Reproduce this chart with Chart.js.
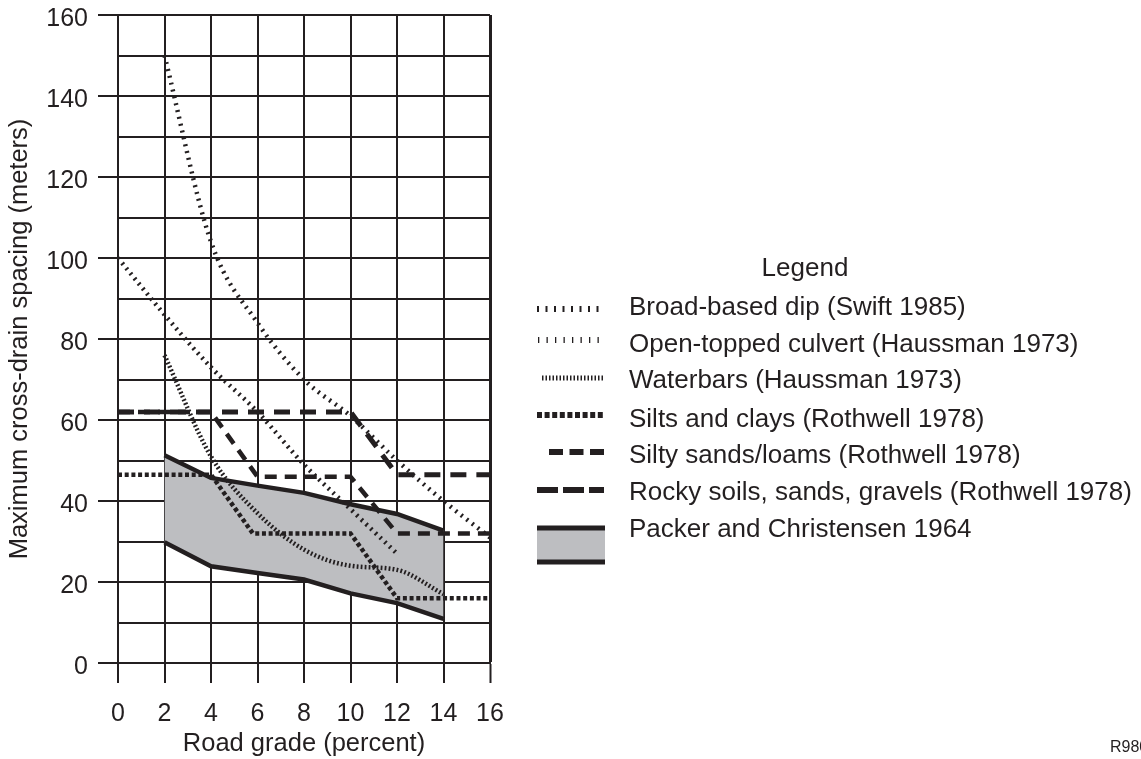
<!DOCTYPE html>
<html>
<head>
<meta charset="utf-8">
<script src="https://cdn.jsdelivr.net/npm/chart.js@4/dist/chart.umd.min.js"></script>
<style>
  html, body { margin: 0; padding: 0; background: #ffffff; }
  #wrap { width: 1141px; height: 759px; position: relative; }
</style>
</head>
<body>
<div id="wrap"><canvas id="c" width="1141" height="759"></canvas></div>
<script>
// ---- Data ----
const xTicks = [0, 2, 4, 6, 8, 10, 12, 14, 16];
const yTicks = [0, 20, 40, 60, 80, 100, 120, 140, 160];

const broadX = [0, 2, 4, 6, 8, 10, 12];
const broadY = [100, 86, 73, 62, 49, 38, 27];

const openX = [2, 4, 6, 8, 10, 12, 14, 16];
const openY = [150, 104, 84, 70, 61, 50, 40, 31];

const waterX = [2, 4, 6, 8, 10, 12, 14];
const waterY = [76, 51, 37, 28, 24, 23, 17];

const siltX = [0, 4, 5.8, 10, 12, 16];
const siltY = [46.5, 46.5, 32, 32, 16, 16];

const sandX = [0, 4, 6, 10, 12, 16];
const sandY = [62, 62, 46, 46, 32, 32];

const rockX = [0, 10, 12, 16];
const rockY = [62, 62, 46.5, 46.5];

const packerX = [2, 4, 6, 8, 10, 12, 14];
const packerUpper = [51.3, 45.7, 43.8, 42, 39.2, 36.8, 32.7];
const packerLower = [29.8, 23.9, 22.2, 20.6, 17.2, 14.8, 10.9];

const labels = [
  'Broad-based dip (Swift 1985)',
  'Open-topped culvert (Haussman 1973)',
  'Waterbars (Haussman 1973)',
  'Silts and clays (Rothwell 1978)',
  'Silty sands/loams (Rothwell 1978)',
  'Rocky soils, sands, gravels (Rothwell 1978)',
  'Packer and Christensen 1964'
];

const INK = '#231f20';
const GRAY = '#bdbec1';
const FONT = "'Liberation Sans', Arial, Helvetica, sans-serif";

function pts(xs, ys) { return xs.map((x, i) => ({ x: x, y: ys[i] })); }

Chart.defaults.font.family = FONT;
Chart.defaults.color = INK;

const legendPlugin = {
  id: 'customLegend',
  afterDraw(chart) {
    const ctx = chart.ctx;
    ctx.save();
    ctx.fillStyle = INK;
    ctx.font = '26px ' + FONT;
    ctx.textAlign = 'center';
    ctx.textBaseline = 'alphabetic';
    ctx.fillText('Legend', 805, 276);

    const rows = [
      { y: 309, w: 6, dash: [2, 6.5], x0: 537 },
      { y: 340, w: 6, dash: [1.3, 7.2], x0: 538 },
      { y: 378, w: 5, dash: [1.5, 2], x0: 542 },
      { y: 415, w: 6, dash: [5, 2.6], x0: 537 },
      { y: 452, w: 6, dash: [14, 6.5], x0: 549 },
      { y: 490, w: 6, dash: [21, 5], x0: 537 }
    ];
    const baselines = [315, 352, 388, 427, 463, 500, 537];
    rows.forEach((r) => {
      ctx.strokeStyle = INK;
      ctx.lineWidth = r.w;
      ctx.lineCap = 'butt';
      ctx.setLineDash(r.dash);
      ctx.beginPath();
      ctx.moveTo(r.x0, r.y);
      ctx.lineTo(604, r.y);
      ctx.stroke();
    });
    ctx.setLineDash([]);
    // Packer sample: gray band with thick top/bottom lines
    ctx.fillStyle = GRAY;
    ctx.fillRect(537, 528, 68, 34);
    ctx.strokeStyle = INK;
    ctx.lineWidth = 5;
    ctx.beginPath();
    ctx.moveTo(537, 528); ctx.lineTo(605, 528);
    ctx.moveTo(537, 562); ctx.lineTo(605, 562);
    ctx.stroke();

    ctx.fillStyle = INK;
    ctx.textAlign = 'left';
    labels.forEach((t, i) => ctx.fillText(t, 629, baselines[i]));

    ctx.font = '16px ' + FONT;
    ctx.fillText('R980', 1110, 752);
    ctx.restore();
  }
};

const lineBase = {
  borderColor: INK,
  pointRadius: 0,
  pointHoverRadius: 0,
  fill: false,
  borderCapStyle: 'butt',
  order: 0
};

new Chart(document.getElementById('c'), {
  type: 'line',
  data: {
    datasets: [
      Object.assign({}, lineBase, { label: labels[0], data: pts(broadX, broadY), borderWidth: 4.5, borderDash: [2, 4.5], cubicInterpolationMode: 'monotone' }),
      Object.assign({}, lineBase, { label: labels[1], data: pts(openX, openY), borderWidth: 4.5, borderDash: [2, 5], cubicInterpolationMode: 'monotone' }),
      Object.assign({}, lineBase, { label: labels[2], data: pts(waterX, waterY), borderWidth: 4.5, borderDash: [1.8, 2.2], cubicInterpolationMode: 'monotone' }),
      Object.assign({}, lineBase, { label: labels[3], data: pts(siltX, siltY), borderWidth: 4.5, borderDash: [4, 2.7] }),
      Object.assign({}, lineBase, { label: labels[4], data: pts(sandX, sandY), borderWidth: 4.5, borderDash: [12, 8] }),
      Object.assign({}, lineBase, { label: labels[5], data: pts(rockX, rockY), borderWidth: 5, borderDash: [16, 10] }),
      Object.assign({}, lineBase, { label: labels[6], data: pts(packerX, packerUpper), borderWidth: 4.5, fill: '+1', backgroundColor: GRAY, order: 10 }),
      Object.assign({}, lineBase, { label: labels[6] + ' (lower)', data: pts(packerX, packerLower), borderWidth: 4.5, order: 10 })
    ]
  },
  options: {
    responsive: false,
    animation: false,
    layout: { padding: { top: 15, right: 651, left: 0, bottom: 0 } },
    plugins: {
      legend: { display: false },
      tooltip: { enabled: false },
      filler: { drawTime: 'beforeDatasetsDraw' }
    },
    scales: {
      x: {
        type: 'linear',
        min: 0, max: 16,
        afterFit(scale) { scale.height = 96; scale.paddingLeft = 0; scale.paddingRight = 0; },
        afterBuildTicks(scale) { scale.ticks = xTicks.map(v => ({ value: v })); },
        ticks: { font: { size: 25 }, color: INK, padding: 16, maxRotation: 0, autoSkip: false },
        grid: {
          color: INK,
          lineWidth: (c) => (c.tick && c.tick.value === 16 ? 3 : 2),
          drawTicks: true,
          tickLength: 20,
          tickColor: INK,
          tickWidth: 2
        },
        border: { display: true, color: INK, width: 2 },
        title: { display: true, text: 'Road grade (percent)', font: { size: 25.5 }, color: INK, padding: { top: 0, bottom: 0 } }
      },
      y: {
        type: 'linear',
        min: 0, max: 160,
        afterFit(scale) { scale.width = 118; scale.paddingTop = 0; scale.paddingBottom = 0; },
        ticks: {
          stepSize: 10,
          autoSkip: false,
          font: { size: 25 },
          color: INK,
          padding: 10,
          labelOffset: 4,
          callback: (v) => (v % 20 === 0 ? String(v) : '')
        },
        grid: {
          color: INK,
          lineWidth: 2,
          drawTicks: true,
          tickLength: 20,
          tickWidth: 2,
          tickColor: (c) => (c.tick && c.tick.value % 20 === 0 ? INK : 'rgba(0,0,0,0)')
        },
        border: { display: true, color: INK, width: 2 },
        title: { display: true, text: 'Maximum cross-drain spacing (meters)', font: { size: 25.5 }, color: INK, padding: { top: 5, bottom: 0 } }
      }
    }
  },
  plugins: [legendPlugin]
});
</script>
</body>
</html>
